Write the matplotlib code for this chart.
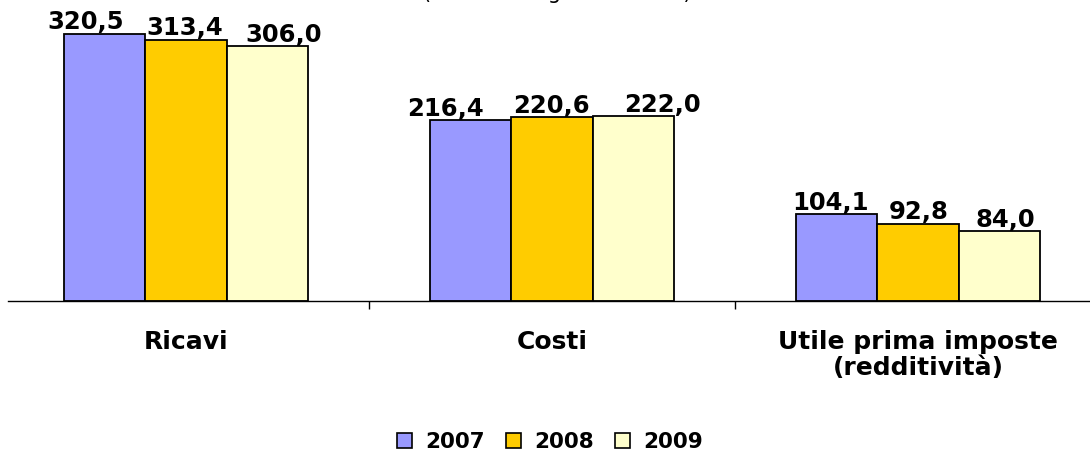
import matplotlib
matplotlib.use("Agg")
import matplotlib.pyplot as plt
from matplotlib.patches import Patch
import numpy as np

categories = ["Ricavi", "Costi", "Utile prima imposte\n(redditività)"]
years = ["2007", "2008", "2009"]
values_2007 = [320.5, 216.4, 104.1]
values_2008 = [313.4, 220.6, 92.8]
values_2009 = [306.0, 222.0, 84.0]
title_text = "(valori in migliaia di euro)"

series = [values_2007, values_2008, values_2009]
colors = ["#9999FF", "#FFCC00", "#FFFFCC"]
# horizontal nudges (pixels) Excel applied to avoid label overlap
label_dx = [[-19, -25, -6], [-1, 0, 1], [16, 29, 6]]

W, H = 1090, 453
fig = plt.figure(figsize=(W / 100, H / 100), dpi=100)
ax_left, ax_right = 8, 1090
ax_bottom_px = 301
ax = fig.add_axes([ax_left / W, (H - ax_bottom_px) / H,
                   (ax_right - ax_left) / W, (ax_bottom_px - 9) / H])

ymax = 350
ax.set_ylim(0, ymax)
ax.set_xlim(-0.486, 2.47)

x = np.arange(len(categories))
bw = 0.222
for i, (vals, col) in enumerate(zip(series, colors)):
    xs = x + (i - 1) * bw
    ax.bar(xs, vals, width=bw, color=col, edgecolor="black", linewidth=1.3,
           label=years[i], zorder=2)
    for j, (xx, v) in enumerate(zip(xs, vals)):
        ax.annotate(f"{v:.1f}".replace(".", ","), (xx, v),
                    xytext=(label_dx[i][j] * 0.72, 3), textcoords="offset points",
                    ha="center", va="baseline", fontsize=17.5, fontweight="bold",
                    family="DejaVu Sans", color="black", zorder=3)

for s in ["top", "right", "left"]:
    ax.spines[s].set_visible(False)
ax.spines["bottom"].set_linewidth(1.0)
ax.set_yticks([])
ax.set_xticks(x)
ax.set_xticklabels(categories, fontsize=18, fontweight="bold",
                   family="DejaVu Sans", linespacing=1.12, va="top")
ax.tick_params(axis="x", which="major", length=0, pad=21)
ax.set_xticks([0.5, 1.5], minor=True)
ax.tick_params(axis="x", which="minor", length=5.5, width=1.0, color="black")

fig.text(557 / W, 1.003, title_text, ha="center", va="baseline",
         fontsize=15, family="DejaVu Sans")

handles = [Patch(facecolor=c, edgecolor="black", linewidth=1.2) for c in colors]
leg = fig.legend(handles, years, loc="center", bbox_to_anchor=(550 / W, (H - 442) / H),
                 ncol=3, frameon=False, handlelength=0.7, handleheight=0.7,
                 handletextpad=0.6, columnspacing=1.0,
                 prop={"size": 15.5, "weight": "bold", "family": "DejaVu Sans"})

fig.savefig("out.png", dpi=100)
